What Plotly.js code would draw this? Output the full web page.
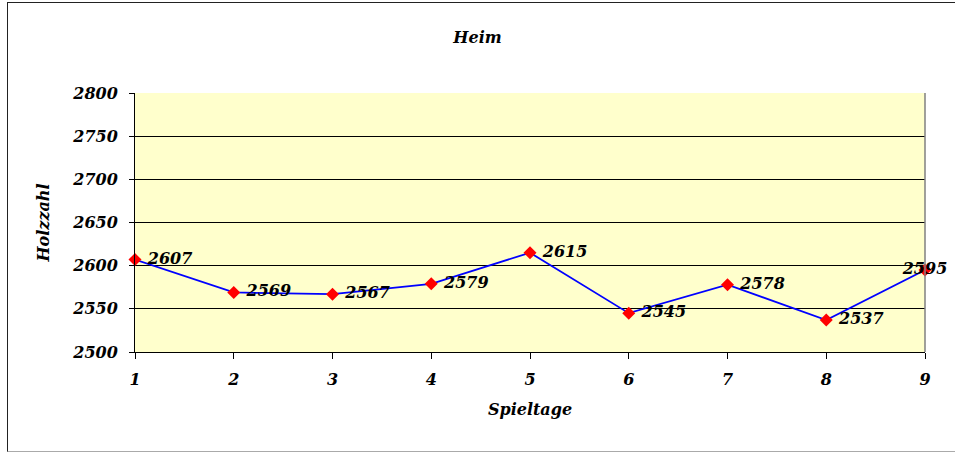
<!DOCTYPE html>
<html>
<head>
<meta charset="utf-8">
<script src="https://cdn.plot.ly/plotly-3.0.1.min.js"></script>
<style>
html,body{margin:0;padding:0;background:#fff;}
#frame{position:absolute;left:7px;top:2px;width:960px;height:450px;border-left:1.5px solid #222;border-top:1.5px solid #222;border-bottom:1.5px solid #aaa;box-sizing:border-box;pointer-events:none;}
#chart{width:955px;height:454px;}
</style>
</head>
<body>
<div id="chart"></div>
<div id="frame"></div>
<script>
var spieltage = [1, 2, 3, 4, 5, 6, 7, 8, 9];
var holzzahl = [2607, 2569, 2567, 2579, 2615, 2545, 2578, 2537, 2595];
var labels = holzzahl.map(function (v) { return '\u00a0' + v; });
var yTicks = [2500, 2550, 2600, 2650, 2700, 2750, 2800];

var F = "DejaVu Serif, Georgia, serif";
var positions = spieltage.map(function (d, i) { return i === spieltage.length - 1 ? 'middle center' : 'middle right'; });
labels[labels.length - 1] = String(holzzahl[holzzahl.length - 1]);

var trace = {
  x: spieltage,
  y: holzzahl,
  mode: 'lines+markers+text',
  text: labels,
  textposition: positions,
  textfont: {family: F, size: 16, color: '#000', weight: 'bold', style: 'italic'},
  line: {color: '#0000FF', width: 1.8},
  marker: {symbol: 'diamond', color: '#FF0000', size: 10},
  cliponaxis: false,
  hoverinfo: 'x+y'
};

var layout = {
  width: 955, height: 454,
  margin: {l: 135, r: 30, t: 93, b: 102},
  paper_bgcolor: '#ffffff',
  plot_bgcolor: '#FFFFCC',
  showlegend: false,
  title: {text: 'Heim', x: 0.5, xref: 'container', xanchor: 'center', y: 0.917, yanchor: 'middle',
          font: {family: F, size: 16, color: '#000', weight: 'bold', style: 'italic'}},
  xaxis: {
    range: [1, 9], tickvals: spieltage, ticktext: spieltage.map(String),
    showgrid: false, zeroline: false,
    showline: true, linecolor: '#000', linewidth: 1,
    ticks: 'outside', ticklen: 6, tickcolor: '#000', ticklabelstandoff: 7,
    tickfont: {family: F, size: 16, color: '#000', weight: 'bold', style: 'italic'},
    title: {text: 'Spieltage', standoff: 15, font: {family: F, size: 16, color: '#000', weight: 'bold', style: 'italic'}},
    automargin: false
  },
  yaxis: {
    range: [2500, 2800], tickvals: yTicks, ticktext: yTicks.map(String),
    showgrid: true, gridcolor: '#000', gridwidth: 1, zeroline: false,
    showline: true, linecolor: '#000', linewidth: 1,
    ticks: 'outside', ticklen: 5, tickcolor: '#000', ticklabelstandoff: 8,
    tickfont: {family: F, size: 16, color: '#000', weight: 'bold', style: 'italic'},
    title: {text: 'Holzzahl', standoff: 18, font: {family: F, size: 16, color: '#000', weight: 'bold', style: 'italic'}},
    automargin: false
  },
  shapes: [
    {type: 'line', xref: 'paper', yref: 'paper', x0: 1, x1: 1, y0: 0, y1: 1, line: {color: '#808080', width: 1.5}}
  ]
};

Plotly.newPlot('chart', [trace], layout, {displayModeBar: false, staticPlot: true});
</script>
</body>
</html>
